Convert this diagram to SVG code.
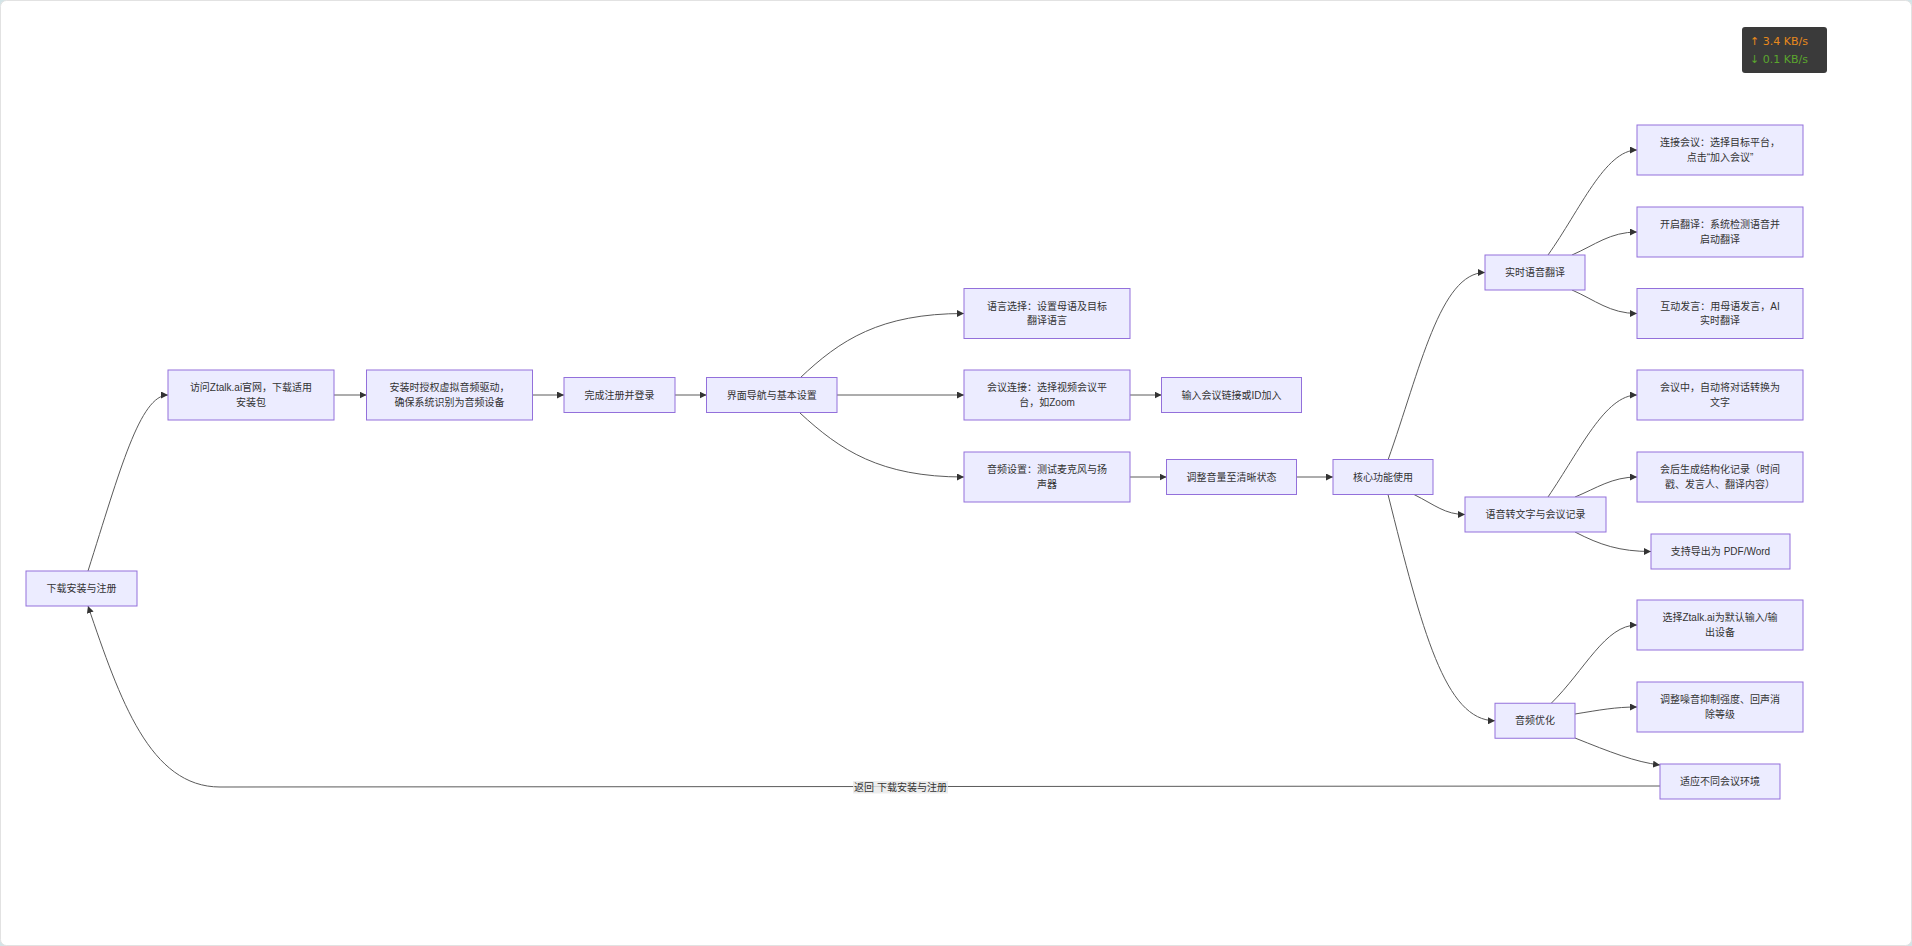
<svg xmlns="http://www.w3.org/2000/svg" width="1912" height="946" viewBox="0 0 1912 946">
<style>
.node rect{fill:#ECECFF;stroke:#9370DB;stroke-width:1}
.node text,.lbl text{font-family:"Liberation Sans","Noto Sans CJK SC",sans-serif;font-size:10px;fill:#333;text-anchor:middle;dominant-baseline:central}
.edge{fill:none;stroke:#5a5a5a;stroke-width:1;marker-end:url(#arr)}
.badge{font-family:"DejaVu Sans","Liberation Sans",sans-serif;font-size:11px;dominant-baseline:central}
</style>
<defs>
<marker id="arr" viewBox="0 0 10 10" refX="10" refY="5" markerWidth="7" markerHeight="7" markerUnits="userSpaceOnUse" orient="auto">
<path d="M0,0 L10,5 L0,10 z" fill="#333"/>
</marker>
</defs>
<rect x="0" y="0" width="1912" height="946" fill="#d3e4e7"/>
<rect x="0.5" y="0.5" width="1911" height="945" rx="6" fill="#ffffff" stroke="#e2e2e2"/>

<g id="connectors">
<path class="edge" d="M88,571 C120,470 140,395 168,395"/>
<path class="edge" d="M334,395 L366.5,395"/>
<path class="edge" d="M532.5,395 L564,395"/>
<path class="edge" d="M675,395 L706.5,395"/>
<path class="edge" d="M800,378 C840,340 880,313.5 964,313.5"/>
<path class="edge" d="M837,395 L964,395"/>
<path class="edge" d="M800,413 C840,450 880,477 964,477"/>
<path class="edge" d="M1130,395 L1161.5,395"/>
<path class="edge" d="M1130,477 L1166.5,477"/>
<path class="edge" d="M1296.5,477 L1333,477"/>
<path class="edge" d="M1388,460 C1420,370 1440,272.5 1485,272.5"/>
<path class="edge" d="M1414,494.5 C1435,505 1445,514.5 1465,514.5"/>
<path class="edge" d="M1388,494.5 C1422,630 1445,720.75 1495,720.75"/>
<path class="edge" d="M1548,255 C1580,210 1605,150 1637,150"/>
<path class="edge" d="M1572,255 C1595,245 1610,232 1637,232"/>
<path class="edge" d="M1572,290 C1595,300 1610,313.5 1637,313.5"/>
<path class="edge" d="M1548,497 C1580,450 1605,395 1637,395"/>
<path class="edge" d="M1575,497 C1597,488 1612,477 1637,477"/>
<path class="edge" d="M1575,532 C1600,545 1620,551.5 1651,551.5"/>
<path class="edge" d="M1551,703.5 C1585,670 1605,625 1637,625"/>
<path class="edge" d="M1575,714 C1600,710 1615,707 1637,707"/>
<path class="edge" d="M1575,738 C1610,752 1635,762 1660,765"/>
<path class="edge" d="M1660,786 L220,787 C150,787 120,700 88,606"/>
</g>

<g id="edge-label" class="lbl">
<rect x="853" y="781" width="95" height="12.5" fill="#e8e8e8" opacity="0.8"/>
<text x="900.5" y="787">返回 下载安装与注册</text>
</g>

<g id="nA" class="node"><rect x="26" y="571" width="111" height="35"/><text x="81.5" y="588.5">下载安装与注册</text></g>
<g id="nB" class="node"><rect x="168" y="370" width="166" height="50"/><text x="251" y="387.7">访问Ztalk.ai官网，下载适用</text><text x="251" y="402.3">安装包</text></g>
<g id="nC" class="node"><rect x="366.5" y="370" width="166" height="50"/><text x="449.5" y="387.7">安装时授权虚拟音频驱动，</text><text x="449.5" y="402.3">确保系统识别为音频设备</text></g>
<g id="nD" class="node"><rect x="564" y="377.5" width="111" height="35"/><text x="619.5" y="395">完成注册并登录</text></g>
<g id="nE" class="node"><rect x="706.5" y="377.5" width="130.5" height="35"/><text x="771.75" y="395">界面导航与基本设置</text></g>
<g id="nF" class="node"><rect x="964" y="288.5" width="166" height="50"/><text x="1047" y="306.2">语言选择：设置母语及目标</text><text x="1047" y="320.8">翻译语言</text></g>
<g id="nG" class="node"><rect x="964" y="370" width="166" height="50"/><text x="1047" y="387.7">会议连接：选择视频会议平</text><text x="1047" y="402.3">台，如Zoom</text></g>
<g id="nH" class="node"><rect x="1161.5" y="377.5" width="140" height="35"/><text x="1231.5" y="395">输入会议链接或ID加入</text></g>
<g id="nI" class="node"><rect x="964" y="452" width="166" height="50"/><text x="1047" y="469.7">音频设置：测试麦克风与扬</text><text x="1047" y="484.3">声器</text></g>
<g id="nJ" class="node"><rect x="1166.5" y="459.5" width="130" height="35"/><text x="1231.5" y="477">调整音量至清晰状态</text></g>
<g id="nK" class="node"><rect x="1333" y="459.5" width="100" height="35"/><text x="1383" y="477">核心功能使用</text></g>
<g id="nL" class="node"><rect x="1485" y="255" width="100" height="35"/><text x="1535" y="272.5">实时语音翻译</text></g>
<g id="nM" class="node"><rect x="1465" y="497" width="141" height="35"/><text x="1535.5" y="514.5">语音转文字与会议记录</text></g>
<g id="nN" class="node"><rect x="1495" y="703.25" width="80" height="35"/><text x="1535" y="720.75">音频优化</text></g>
<g id="nO" class="node"><rect x="1637" y="125" width="166" height="50"/><text x="1720" y="142.7">连接会议：选择目标平台，</text><text x="1720" y="157.3">点击“加入会议”</text></g>
<g id="nP" class="node"><rect x="1637" y="207" width="166" height="50"/><text x="1720" y="224.7">开启翻译：系统检测语音并</text><text x="1720" y="239.3">启动翻译</text></g>
<g id="nQ" class="node"><rect x="1637" y="288.5" width="166" height="50"/><text x="1720" y="306.2">互动发言：用母语发言，AI</text><text x="1720" y="320.8">实时翻译</text></g>
<g id="nR" class="node"><rect x="1637" y="370" width="166" height="50"/><text x="1720" y="387.7">会议中，自动将对话转换为</text><text x="1720" y="402.3">文字</text></g>
<g id="nS" class="node"><rect x="1637" y="452" width="166" height="50"/><text x="1720" y="469.7">会后生成结构化记录（时间</text><text x="1720" y="484.3">戳、发言人、翻译内容）</text></g>
<g id="nT" class="node"><rect x="1651" y="534" width="139" height="35"/><text x="1720.5" y="551.5">支持导出为 PDF/Word</text></g>
<g id="nU" class="node"><rect x="1637" y="600" width="166" height="50"/><text x="1720" y="617.7">选择Ztalk.ai为默认输入/输</text><text x="1720" y="632.3">出设备</text></g>
<g id="nV" class="node"><rect x="1637" y="682" width="166" height="50"/><text x="1720" y="699.7">调整噪音抑制强度、回声消</text><text x="1720" y="714.3">除等级</text></g>
<g id="nW" class="node"><rect x="1660" y="764" width="120" height="35"/><text x="1720" y="781.5">适应不同会议环境</text></g>

<g id="badge">
<rect x="1742" y="27" width="85" height="46" rx="3" fill="#3a3a3a"/>
<text class="badge" x="1750" y="41.7" fill="#e8891c">↑ 3.4 KB/s</text>
<text class="badge" x="1750" y="59.3" fill="#5aa62e">↓ 0.1 KB/s</text>
</g>
</svg>
